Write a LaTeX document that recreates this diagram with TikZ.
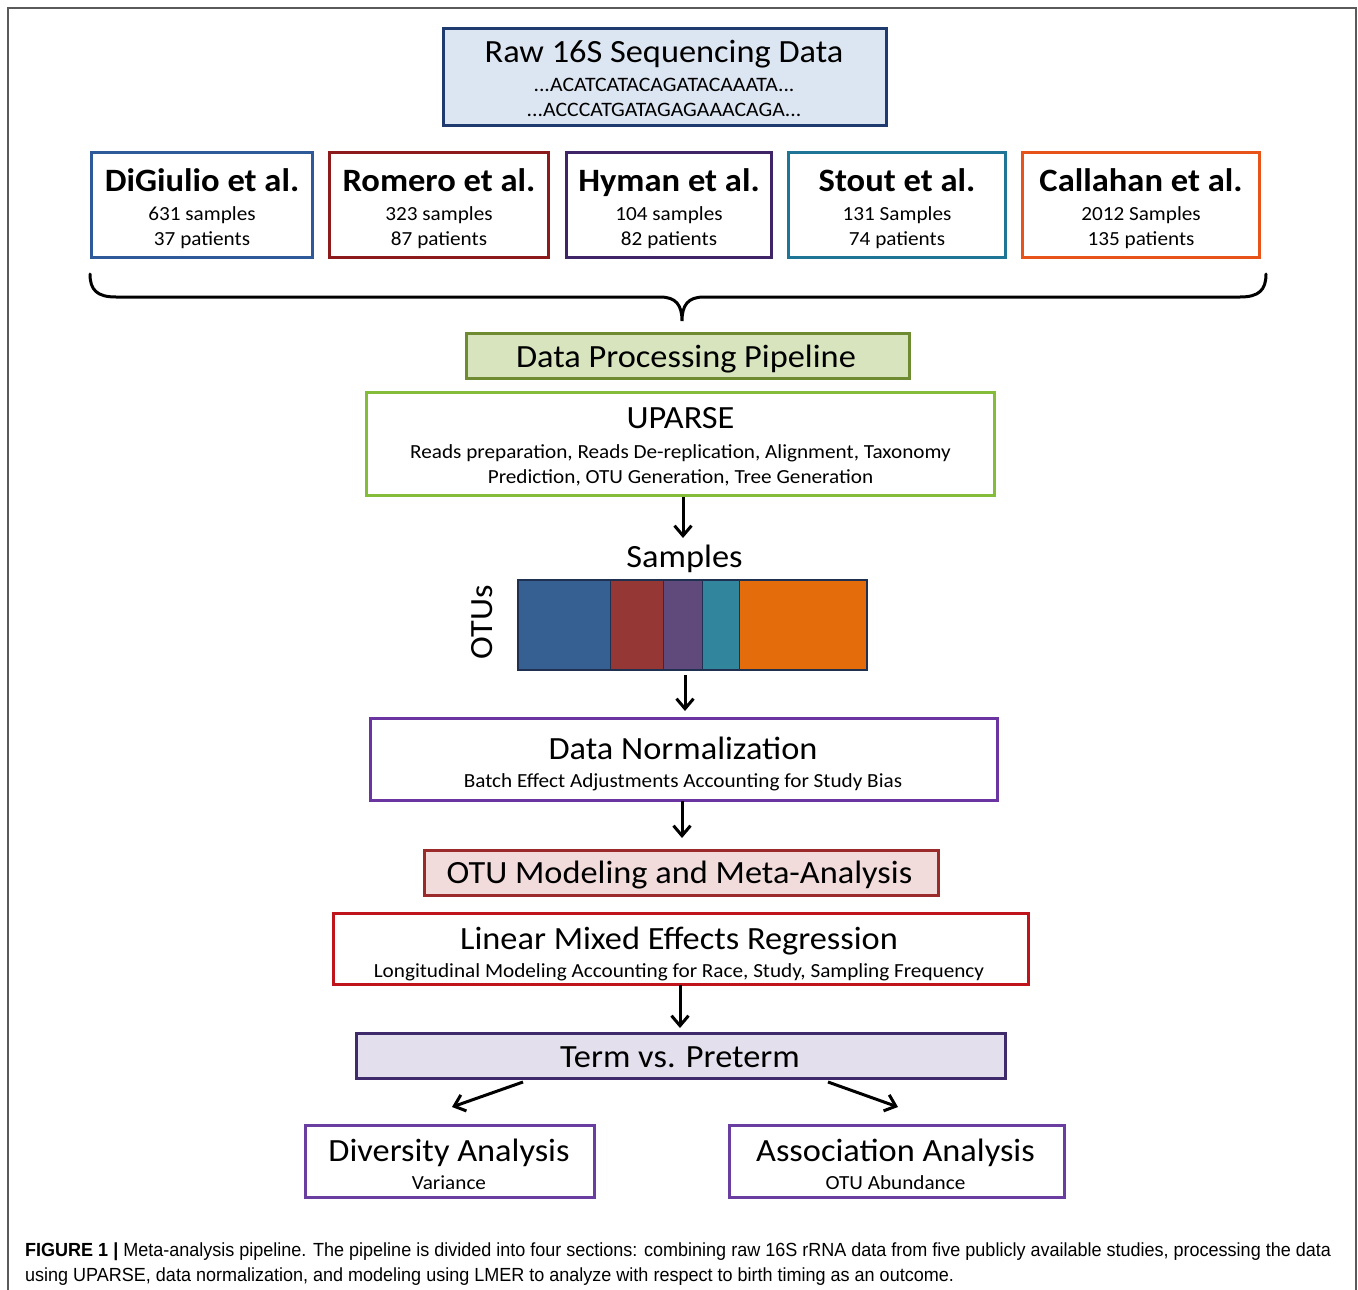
\documentclass[tikz,border=0pt]{standalone}
\usepackage{fontspec}
\setmainfont[FakeStretch=1.06]{Carlito}
\newfontfamily\capfont[FakeStretch=0.948]{Liberation Sans}
\usetikzlibrary{arrows.meta}
\definecolor{rawfill}{HTML}{DCE6F2}
\definecolor{rawdraw}{HTML}{1F3A6E}
\definecolor{cdig}{HTML}{2E5A9A}
\definecolor{crom}{HTML}{8E1B1B}
\definecolor{chym}{HTML}{3F2467}
\definecolor{csto}{HTML}{1F7596}
\definecolor{ccal}{HTML}{E8531A}
\definecolor{pipefill}{HTML}{D7E4BD}
\definecolor{pipedraw}{HTML}{6E8B32}
\definecolor{updraw}{HTML}{84BD3A}
\definecolor{normdraw}{HTML}{6A35A0}
\definecolor{modfill}{HTML}{F2DCDB}
\definecolor{moddraw}{HTML}{9B2B2B}
\definecolor{lmdraw}{HTML}{C0141C}
\definecolor{termfill}{HTML}{E4DFEC}
\definecolor{termdraw}{HTML}{3F2A6B}
\definecolor{anadraw}{HTML}{6A3DA0}
\definecolor{barblue}{HTML}{376092}
\definecolor{barred}{HTML}{953735}
\definecolor{barpur}{HTML}{604A7B}
\definecolor{barteal}{HTML}{31859C}
\definecolor{barorg}{HTML}{E46C0A}
\definecolor{barline}{HTML}{1F3050}
\definecolor{framegray}{HTML}{5A5A5A}
\tikzset{
  box/.style={draw=#1, line width=3pt, inner sep=0pt, anchor=center},
  txt/.style={anchor=base, inner sep=0pt, text=black},
  fbig/.style={font=\fontsize{32.4}{38}\selectfont},
  fbold/.style={font=\fontsize{32.6}{38}\selectfont\bfseries},
  fsub/.style={font=\fontsize{20}{24}\selectfont},
  fseq/.style={font=\fontsize{20.5}{24}\selectfont},
  fcap/.style={font=\capfont\fontsize{19}{23}\selectfont},
  arr/.style={line width=3pt, -{Straight Barb[length=10pt,width=17pt]}},
  brace/.style={line width=3pt, line cap=round},
  seg/.style={draw=barline, line width=1pt},
}
\begin{document}
\begin{tikzpicture}[x=1pt,y=-1pt]
\useasboundingbox (0,0) rectangle (1358,1290);
% outer frame
\draw[framegray, line width=2pt] (8,1290) -- (8,8) -- (1356,8) -- (1356,1290);

% raw data
\node[box=rawdraw, fill=rawfill, minimum width=443pt, minimum height=97pt] (raw) at (665,77) {};
\node[txt, fbig] (rawt) at (664,62.2) {Raw 16S Sequencing Data};
\node[txt, fseq] (raws1) at (664,91.3) {...ACATCATACAGATACAAATA...};
\node[txt, fseq] (raws2) at (664,116.3) {...ACCCATGATAGAGAAACAGA...};

% studies
\foreach \nm/\cx/\w/\col/\ttl/\sa/\pa in {
  dig/202/224/cdig/DiGiulio et al./631 samples/37 patients,
  rom/439/222/crom/Romero et al./323 samples/87 patients,
  hym/669/208/chym/Hyman et al./104 samples/82 patients,
  sto/897/220/csto/Stout et al./131 Samples/74 patients,
  cal/1141/240/ccal/Callahan et al./2012 Samples/135 patients}{
  \node[box=\col, minimum width=\w pt-3pt, minimum height=105pt] (\nm) at (\cx,205) {};
  \node[txt, fbold] (\nm t) at (\cx,191.3) {\ttl};
  \node[txt, fsub] (\nm s) at (\cx,220.3) {\sa};
  \node[txt, fsub] (\nm p) at (\cx,245.3) {\pa};
}

% brace
\draw[brace] (90,274) .. controls (90,290) and (97,297) .. (116,297)
  -- (660,297) .. controls (676,297) and (682,305) .. (682,321)
  .. controls (682,305) and (688,297) .. (704,297)
  -- (1240,297) .. controls (1259,297) and (1266,290) .. (1266,274);

% pipeline
\node[box=pipedraw, fill=pipefill, minimum width=443pt, minimum height=45pt] (pipe) at (688,356) {};
\node[txt, fbig] (pipet) at (686,367.2) {Data Processing Pipeline};

\node[box=updraw, minimum width=628pt, minimum height=103pt] (up) at (680.5,444) {};
\node[txt, fbig] (upt) at (680.5,428.2) {UPARSE};
\node[txt, fsub] (ups1) at (680.5,458.3) {Reads preparation, Reads De-replication, Alignment, Taxonomy};
\node[txt, fsub] (ups2) at (680.5,483.3) {Prediction, OTU Generation, Tree Generation};

% samples matrix
\node[txt, fbig] (samp) at (684.5,567.2) {Samples};
\fill[barblue] (518,580) rectangle (610,670);
\fill[barred] (610,580) rectangle (663,670);
\fill[barpur] (663,580) rectangle (702,670);
\fill[barteal] (702,580) rectangle (739,670);
\fill[barorg] (739,580) rectangle (867,670);
\draw[seg] (610,580) -- (610,670);
\draw[seg] (663,580) -- (663,670);
\draw[seg] (702,580) -- (702,670);
\draw[seg] (739,580) -- (739,670);
\node[draw=barline, line width=1.5pt, minimum width=349pt, minimum height=90pt, inner sep=0pt] (bar) at (692.5,625) {};
\node[fbig, rotate=90, inner sep=0pt] (otus) at (482,622) {OTUs};

% normalization
\node[box=normdraw, minimum width=627pt, minimum height=82pt] (norm) at (684,759.5) {};
\node[txt, fbig] (normt) at (683,759.2) {Data Normalization};
\node[txt, fsub] (norms) at (683,787.3) {Batch Effect Adjustments Accounting for Study Bias};

% modeling
\node[box=moddraw, fill=modfill, minimum width=514pt, minimum height=45pt] (mod) at (681.5,873) {};
\node[txt, fbig] (modt) at (679.5,883.2) {OTU Modeling and Meta-Analysis};

\node[box=lmdraw, minimum width=695pt, minimum height=71pt] (lm) at (681,949) {};
\node[txt, fbig] (lmt) at (679,949.2) {Linear Mixed Effects Regression};
\node[txt, fsub] (lms) at (679,977.3) {Longitudinal Modeling Accounting for Race, Study, Sampling Frequency};

% term vs preterm
\node[box=termdraw, fill=termfill, minimum width=649pt, minimum height=45pt] (term) at (681,1056) {};
\node[txt, fbig] (termt) at (680,1067.2) {Term vs. Preterm};

% analyses
\node[box=anadraw, minimum width=289pt, minimum height=72pt] (div) at (450,1161.5) {};
\node[txt, fbig] (divt) at (449,1161.2) {Diversity Analysis};
\node[txt, fsub] (divs) at (449,1189.3) {Variance};
\node[box=anadraw, minimum width=335pt, minimum height=72pt] (ass) at (897,1161.5) {};
\node[txt, fbig] (asst) at (895.5,1161.2) {Association Analysis};
\node[txt, fsub] (asss) at (895.5,1189.3) {OTU Abundance};

% arrow end points
\coordinate (a1e) at (683,538);
\coordinate (a2s) at (685,675);
\coordinate (a3s) at (682,801);
\coordinate (a4s) at (680,985);
\coordinate (tl) at (523,1082);
\coordinate (dl) at (452,1107);
\coordinate (tr) at (828,1082);
\coordinate (dr) at (898,1107);
% arrows
\draw[arr] (up.south -| a1e) -- (a1e);
\draw[arr, shorten >=6pt] (a2s) -- (norm.north -| a2s);
\draw[arr, shorten >=11pt] (a3s) -- (mod.north -| a3s);
\draw[arr, shorten >=4pt] (a4s) -- (term.north -| a4s);
\draw[arr] (tl) -- (dl);
\draw[arr] (tr) -- (dr);

% caption
\node[anchor=base west, inner sep=0pt, fcap] (cap1) at (25,1256.5) {\textbf{FIGURE 1 |} Meta-analysis pipeline. The pipeline is divided into four sections: combining raw 16S rRNA data from five publicly available studies, processing the data};
\node[anchor=base west, inner sep=0pt, fcap] (cap2) at (25,1281.5) {using UPARSE, data normalization, and modeling using LMER to analyze with respect to birth timing as an outcome.};
\end{tikzpicture}
\end{document}
